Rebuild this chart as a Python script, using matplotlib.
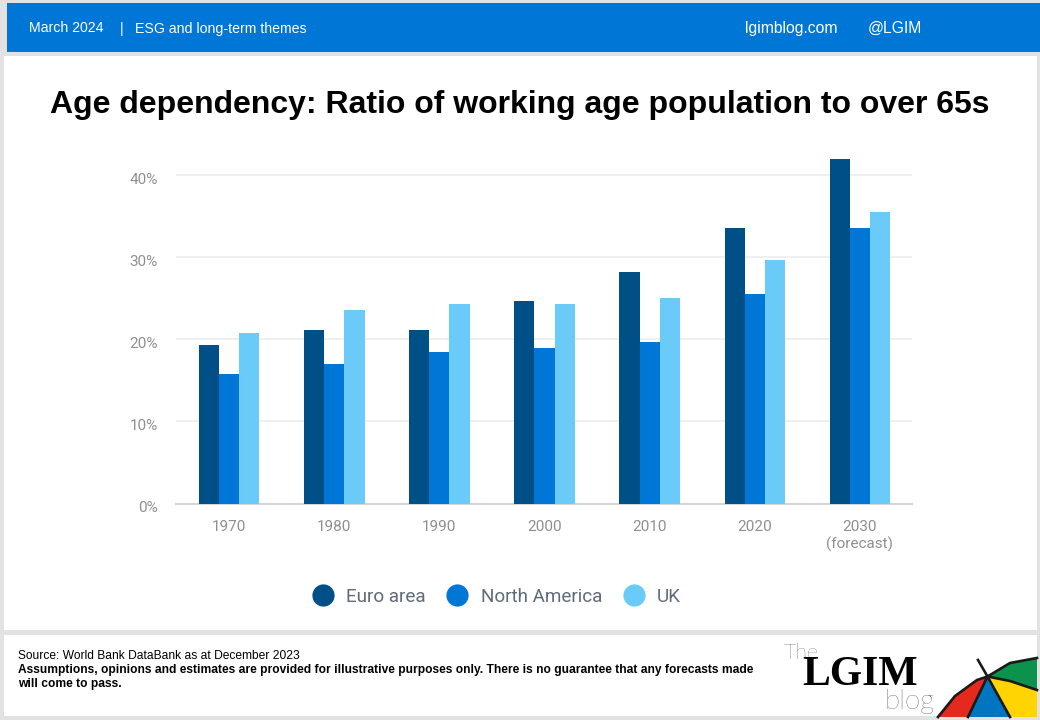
#!/usr/bin/env python3

import matplotlib
matplotlib.use("Agg")
import matplotlib.pyplot as plt
import numpy as np
from matplotlib.lines import Line2D
from matplotlib.patches import Polygon, Rectangle
from matplotlib.transforms import ScaledTranslation

# chart data
decades = ["1970", "1980", "1990", "2000", "2010", "2020", "2030\n(forecast)"]
euro_area = [19.3, 21.2, 21.2, 24.7, 28.2, 33.6, 42.0]
north_america = [15.8, 17.0, 18.5, 18.9, 19.7, 25.5, 33.6]
uk = [20.8, 23.6, 24.3, 24.3, 25.0, 29.7, 35.5]
y_ticks = [0, 10, 20, 30, 40]
series_names = ["Euro area", "North America", "UK"]
series_colors = ["#004f86", "#0076d6", "#6bcbf8"]

W, H = 1040, 720
fig = plt.figure(figsize=(W / 100, H / 100), dpi=100, facecolor="#e2e2e2")

# page furniture in pixel coordinates, y going down
page = fig.add_axes([0, 0, 1, 1], zorder=0)
page.set_xlim(0, W)
page.set_ylim(H, 0)
page.axis("off")
page.add_patch(Rectangle((7, 3), 1033, 49, fc="#0076d6", ec="none"))
page.add_patch(Rectangle((4, 56), 1033, 574, fc="white", ec="none"))
page.add_patch(Rectangle((4, 635), 1033, 81, fc="white", ec="none"))

sans = "Liberation Sans"
page.text(29, 28.5, "March 2024", color="white", fontsize=10.15, family=sans, va="center")
page.text(120, 28.5, "|", color="white", fontsize=10.15, family=sans, va="center")
page.text(135, 28.5, "ESG and long-term themes", color="white", fontsize=10.15, family=sans, va="center")
page.text(745, 28.5, "lgimblog.com", color="white", fontsize=11.3, family=sans, va="center")
page.text(868, 28.5, "@LGIM", color="white", fontsize=11.3, family=sans, va="center")
page.text(520, 105, "Age dependency: Ratio of working age population to over 65s",
          color="black", fontsize=23.05, fontweight="bold", family=sans, ha="center", va="center")

page.text(18, 656, "Source: World Bank DataBank as at December 2023", fontsize=8.68, family=sans, va="center")
page.text(18, 669.5, "Assumptions, opinions and estimates are provided for illustrative purposes only. There is no guarantee that any forecasts made",
          fontsize=8.67, fontweight="bold", family=sans, va="center")
page.text(18, 683.5, "will come to pass.", fontsize=8.67, fontweight="bold", family=sans, va="center")

# logo
page.text(784, 653, "The", fontsize=15.5, color="#222222", family="Lato", fontweight="light", va="center")
page.text(802, 675, "LGIM", fontsize=30, color="black", family="Liberation Serif", fontweight="bold", va="center")
page.text(884, 701, "blog", fontsize=20, color="#222222", family="Lato", fontweight="light", va="center")
apex = (987.5, 676.5)
canopy = [
    ("#e5291f", [apex, (968, 717), (938, 717), (955, 696), (977, 680)]),
    ("#0076c0", [apex, (968, 717), (1010, 717)]),
    ("#ffd400", [apex, (1010, 717), (1037, 717), (1037, 690), (1010, 681)]),
    ("#0b934e", [apex, (1010, 681), (1037, 690), (1037, 658), (1010, 663)]),
]
for color, pts in canopy:
    page.add_patch(Polygon(pts, closed=True, fc=color, ec="none"))
ribs = [
    [(978, 660), apex],
    [apex, (968, 717)],
    [apex, (1010, 717)],
    [apex, (1010, 681), (1037, 690)],
    [apex, (977, 680), (955, 696), (938, 717)],
    [apex, (1010, 663), (1037, 658)],
]
for rib in ribs:
    page.plot([p[0] for p in rib], [p[1] for p in rib], color="#1a1a1a", lw=1.9)

# the chart itself
ax = fig.add_axes([176 / W, 1 - 503.5 / H, 736 / W, 353.5 / H], zorder=1)
ax.patch.set_alpha(0)
x = np.arange(len(decades))
bar_w = 0.192
for i, (vals, color) in enumerate(zip([euro_area, north_america, uk], series_colors)):
    ax.bar(x + (i - 1) * bar_w, vals, bar_w, color=color, edgecolor="none", zorder=3)

ax.set_xlim(-0.505, len(decades) - 0.505)
ax.set_ylim(0, 43.1)
ax.set_xticks(x)
ax.set_xticklabels(decades, family="Roboto", fontsize=11, color="#8f8f8f", linespacing=1.2)
ax.set_yticks(y_ticks)
ax.set_yticklabels(["%d%%" % v for v in y_ticks], family="Roboto", fontsize=11, color="#8f8f8f")
ax.tick_params(axis="both", length=0)
ax.tick_params(axis="x", pad=12)
ax.tick_params(axis="y", pad=13)
# y labels sit a little under their gridline in the original
shift = ScaledTranslation(0, -3 / 100, fig.dpi_scale_trans)
for label in ax.get_yticklabels():
    label.set_transform(label.get_transform() + shift)
ax.grid(axis="y", color="#efefef", lw=1.3, zorder=0)
for side in ["top", "right", "left"]:
    ax.spines[side].set_visible(False)
ax.spines["bottom"].set_color("#d4d4d4")
ax.spines["bottom"].set_linewidth(1.5)

handles = [Line2D([], [], ls="none", marker="o", ms=16, mfc=c, mec="none") for c in series_colors]
leg = fig.legend(handles, series_names, loc="center", bbox_to_anchor=(495 / W, 1 - 597 / H), ncol=3,
                 frameon=False, handletextpad=0.5, columnspacing=0.97, handlelength=1.45,
                 prop={"family": "Roboto", "size": 13.6})
for t in leg.get_texts():
    t.set_color("#5f6b78")

fig.savefig("out.png", dpi=100, facecolor=fig.get_facecolor())
